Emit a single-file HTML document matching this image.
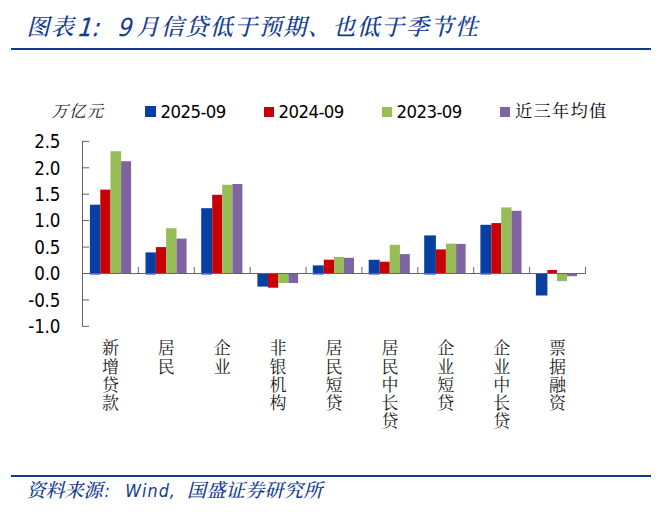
<!DOCTYPE html>
<html lang="zh-CN"><head><meta charset="utf-8"><title>图表1</title>
<style>
html,body{margin:0;padding:0;background:#fff;}
body{width:660px;height:522px;position:relative;overflow:hidden;font-family:"DejaVu Sans Condensed","DejaVu Sans","Liberation Sans","Noto Serif CJK SC",sans-serif;color:#000;}
.kai{font-family:"Liberation Serif","Noto Serif CJK SC",serif;}
.rule{position:absolute;left:11px;width:640px;height:2.3px;background:#103a8c;}
.title{position:absolute;top:9.8px;height:36px;line-height:36px;font-size:23px;letter-spacing:1.2px;color:#123c90;font-style:italic;font-weight:500;white-space:nowrap;}
.t1,.t9{font-family:"DejaVu Sans Condensed","DejaVu Sans",sans-serif;font-weight:400;font-size:25px;letter-spacing:0;margin-top:0.5px;transform:skewX(-7deg);transform-origin:0 75%;}
.t1{-webkit-text-stroke:0.3px #123c90;}
.src{position:absolute;top:479.4px;height:24px;line-height:24px;font-size:19px;letter-spacing:0.4px;color:#123c90;font-style:italic;font-weight:500;white-space:nowrap;}
.src.ar{top:478.5px;font-family:"DejaVu Sans Condensed","DejaVu Sans",sans-serif;font-size:17.8px;font-weight:400;letter-spacing:1px;}
.unit{position:absolute;left:51.5px;top:101px;letter-spacing:1px;font-size:16.5px;line-height:22px;font-style:italic;white-space:nowrap;color:#222;}
.lg{position:absolute;top:101px;height:22px;line-height:22px;font-size:18.4px;letter-spacing:-0.55px;white-space:nowrap;color:#000;}
.sq{position:absolute;top:107px;width:9.8px;height:9.7px;}
.yt{position:absolute;left:20px;width:40.2px;text-align:right;font-size:18.6px;letter-spacing:-0.2px;line-height:20px;height:20px;white-space:nowrap;}
.cat{position:absolute;top:339.3px;width:20px;text-align:center;font-size:17px;color:#1a1a1a;}
.cat span{display:block;height:18.3px;line-height:18.3px;}
svg{position:absolute;left:0;top:0;}
</style></head><body>
<div class="title kai" style="left:26.5px">图表</div>
<div class="title t1" style="left:78.2px">1:</div>
<div class="title t9" style="left:118.3px">9</div>
<div class="title kai" style="left:136.3px;letter-spacing:1.5px">月信贷低于预期、也低于季节性</div>
<div class="rule" style="top:47.9px"></div>
<div class="unit kai">万亿元</div>
<div class="sq" style="left:144.5px;top:105.7px;width:11.7px;height:11.5px;background:#073fa2"></div><div class="lg" style="left:160.5px">2025-09</div>
<div class="sq" style="left:264px;background:#c60006"></div><div class="lg" style="left:278.5px">2024-09</div>
<div class="sq" style="left:381.8px;background:#98bd57"></div><div class="lg" style="left:396.5px">2023-09</div>
<div class="sq" style="left:500px;background:#8064a2"></div><div class="lg kai" style="left:515px;font-size:17.3px;letter-spacing:1.2px">近三年均值</div>
<svg width="660" height="522" viewBox="0 0 660 522">
<rect x="89.9" y="204.7" width="10.4" height="69.8" fill="#073fa2"/>
<rect x="100.3" y="189.6" width="10.2" height="83.9" fill="#c60006"/>
<rect x="110.5" y="151.2" width="10.6" height="122.3" fill="#98bd57"/>
<rect x="121.1" y="161.2" width="10.0" height="112.3" fill="#8064a2"/>
<rect x="145.5" y="252.4" width="10.4" height="22.1" fill="#073fa2"/>
<rect x="155.9" y="247.1" width="10.2" height="26.4" fill="#c60006"/>
<rect x="166.1" y="228.2" width="10.4" height="45.3" fill="#98bd57"/>
<rect x="176.5" y="238.6" width="10.1" height="34.9" fill="#8064a2"/>
<rect x="201.2" y="208.2" width="11.0" height="66.3" fill="#073fa2"/>
<rect x="212.2" y="194.8" width="10.0" height="78.7" fill="#c60006"/>
<rect x="222.2" y="184.8" width="10.2" height="88.7" fill="#98bd57"/>
<rect x="232.4" y="184.0" width="10.0" height="89.5" fill="#8064a2"/>
<rect x="257.4" y="273.0" width="10.6" height="13.6" fill="#073fa2"/>
<rect x="268.0" y="273.5" width="10.2" height="14.2" fill="#c60006"/>
<rect x="278.2" y="273.5" width="10.2" height="9.5" fill="#98bd57"/>
<rect x="288.4" y="273.5" width="9.7" height="9.5" fill="#8064a2"/>
<rect x="312.8" y="265.4" width="11.0" height="9.1" fill="#073fa2"/>
<rect x="323.8" y="259.7" width="10.2" height="13.8" fill="#c60006"/>
<rect x="334.0" y="256.9" width="10.0" height="16.6" fill="#98bd57"/>
<rect x="344.0" y="257.8" width="10.0" height="15.7" fill="#8064a2"/>
<rect x="368.7" y="259.8" width="11.0" height="14.7" fill="#073fa2"/>
<rect x="379.7" y="261.7" width="10.0" height="11.8" fill="#c60006"/>
<rect x="389.7" y="244.8" width="10.2" height="28.7" fill="#98bd57"/>
<rect x="399.9" y="254.1" width="9.9" height="19.4" fill="#8064a2"/>
<rect x="424.2" y="235.4" width="11.7" height="39.1" fill="#073fa2"/>
<rect x="435.9" y="249.4" width="10.0" height="24.1" fill="#c60006"/>
<rect x="445.9" y="243.7" width="10.2" height="29.8" fill="#98bd57"/>
<rect x="456.1" y="243.9" width="9.5" height="29.6" fill="#8064a2"/>
<rect x="480.4" y="224.8" width="11.0" height="49.7" fill="#073fa2"/>
<rect x="491.4" y="223.1" width="9.8" height="50.4" fill="#c60006"/>
<rect x="501.2" y="207.4" width="10.3" height="66.1" fill="#98bd57"/>
<rect x="511.5" y="210.8" width="10.0" height="62.7" fill="#8064a2"/>
<rect x="535.9" y="273.0" width="11.5" height="22.5" fill="#073fa2"/>
<rect x="547.4" y="270.0" width="9.5" height="3.5" fill="#c60006"/>
<rect x="556.9" y="273.5" width="10.2" height="7.7" fill="#98bd57"/>
<rect x="567.1" y="273.5" width="10.0" height="2.7" fill="#8064a2"/>
<line x1="82.5" y1="140.9" x2="82.5" y2="326.8" stroke="#666" stroke-width="1"/>
<line x1="82.5" y1="141.4" x2="89.2" y2="141.4" stroke="#666" stroke-width="1"/>
<line x1="82.5" y1="167.8" x2="89.2" y2="167.8" stroke="#666" stroke-width="1"/>
<line x1="82.5" y1="194.2" x2="89.2" y2="194.2" stroke="#666" stroke-width="1"/>
<line x1="82.5" y1="220.6" x2="89.2" y2="220.6" stroke="#666" stroke-width="1"/>
<line x1="82.5" y1="247.1" x2="89.2" y2="247.1" stroke="#666" stroke-width="1"/>
<line x1="82.5" y1="273.5" x2="89.2" y2="273.5" stroke="#666" stroke-width="1"/>
<line x1="82.5" y1="299.9" x2="89.2" y2="299.9" stroke="#666" stroke-width="1"/>
<line x1="82.5" y1="326.3" x2="89.2" y2="326.3" stroke="#666" stroke-width="1"/>
<line x1="82.5" y1="273.5" x2="586.0" y2="273.5" stroke="#666" stroke-width="1"/>
<line x1="138.4" y1="273.5" x2="138.4" y2="267.0" stroke="#666" stroke-width="1"/>
<line x1="194.3" y1="273.5" x2="194.3" y2="267.0" stroke="#666" stroke-width="1"/>
<line x1="250.2" y1="273.5" x2="250.2" y2="267.0" stroke="#666" stroke-width="1"/>
<line x1="306.1" y1="273.5" x2="306.1" y2="267.0" stroke="#666" stroke-width="1"/>
<line x1="361.9" y1="273.5" x2="361.9" y2="267.0" stroke="#666" stroke-width="1"/>
<line x1="417.8" y1="273.5" x2="417.8" y2="267.0" stroke="#666" stroke-width="1"/>
<line x1="473.7" y1="273.5" x2="473.7" y2="267.0" stroke="#666" stroke-width="1"/>
<line x1="529.6" y1="273.5" x2="529.6" y2="267.0" stroke="#666" stroke-width="1"/>
<line x1="585.5" y1="273.5" x2="585.5" y2="267.0" stroke="#666" stroke-width="1"/>
</svg>
<div class="yt" style="top:132.1px">2.5</div>
<div class="yt" style="top:158.5px">2.0</div>
<div class="yt" style="top:184.9px">1.5</div>
<div class="yt" style="top:211.3px">1.0</div>
<div class="yt" style="top:237.8px">0.5</div>
<div class="yt" style="top:264.2px">0.0</div>
<div class="yt" style="top:290.6px">-0.5</div>
<div class="yt" style="top:317.0px">-1.0</div>

<div class="cat" style="left:100.4px"><span>新</span><span>增</span><span>贷</span><span>款</span></div>
<div class="cat" style="left:156.3px"><span>居</span><span>民</span></div>
<div class="cat" style="left:212.2px"><span>企</span><span>业</span></div>
<div class="cat" style="left:268.1px"><span>非</span><span>银</span><span>机</span><span>构</span></div>
<div class="cat" style="left:324.0px"><span>居</span><span>民</span><span>短</span><span>贷</span></div>
<div class="cat" style="left:379.9px"><span>居</span><span>民</span><span>中</span><span>长</span><span>贷</span></div>
<div class="cat" style="left:435.8px"><span>企</span><span>业</span><span>短</span><span>贷</span></div>
<div class="cat" style="left:491.7px"><span>企</span><span>业</span><span>中</span><span>长</span><span>贷</span></div>
<div class="cat" style="left:547.6px"><span>票</span><span>据</span><span>融</span><span>资</span></div>

<div class="rule" style="top:475px"></div>
<div class="src kai" style="left:26.5px;letter-spacing:0px">资料来源</div>
<div class="src ar" style="left:104.5px">:</div>
<div class="src ar" style="left:125.3px">Wind,</div>
<div class="src kai" style="left:187px">国盛证券研究所</div>
</body></html>
